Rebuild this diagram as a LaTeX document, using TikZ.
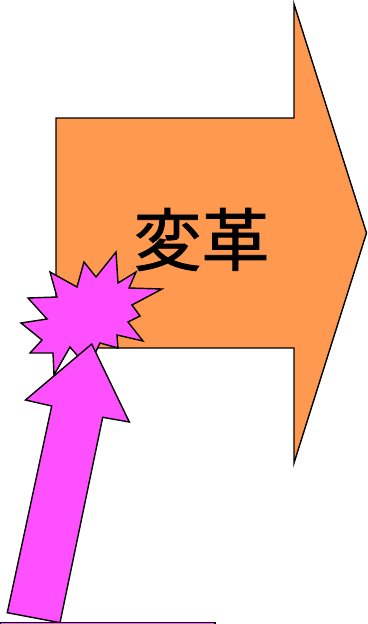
\documentclass[tikz,border=0pt]{standalone}
\usepackage{fontspec}
\newfontfamily\cjkfont[FakeBold=1.2]{Noto Sans CJK JP}
\definecolor{arroworange}{RGB}{255,153,80}
\definecolor{burstmagenta}{RGB}{255,80,255}
\begin{document}
\begin{tikzpicture}[x=1pt,y=-1pt,
  outline/.style={draw=black,line width=1.4pt,line join=miter},
  orangefill/.style={outline,fill=arroworange},
  magentafill/.style={outline,fill=burstmagenta}]
\useasboundingbox (0,0) rectangle (367,624);
% big orange block arrow
\draw[orangefill] (56,118) -- (294,118) -- (294,4) -- (366.5,233) -- (294,463) -- (294,348) -- (56,348) -- cycle;
\node[font=\cjkfont\fontsize{68}{68}\selectfont,inner sep=0pt] (label) at (201.5,239.5) {変革};
% starburst
\draw[magentafill] (116,252) -- (118,283) -- (136,272) -- (129,288) -- (162,289) -- (132,305) -- (140,316) -- (128,322) -- (143,341) -- (117,335) -- (118,348) -- (100,343) -- (88,368) -- (70,347) -- (54,375) -- (53,353) -- (30,353) -- (42,340) -- (21,323) -- (47,319) -- (28,298) -- (57,297) -- (50,272) -- (77,287) -- (84,262) -- (96,277) -- cycle;
% magenta block arrow
\draw[magentafill] (91.7,344) -- (129.3,422) -- (102.7,417.3) -- (60,622.7) -- (7.3,612.7) -- (51.7,406) -- (25.5,400) -- cycle;
% bottom bar
\draw[magentafill] (0,622.5) rectangle (215,630);
\end{tikzpicture}
\end{document}
